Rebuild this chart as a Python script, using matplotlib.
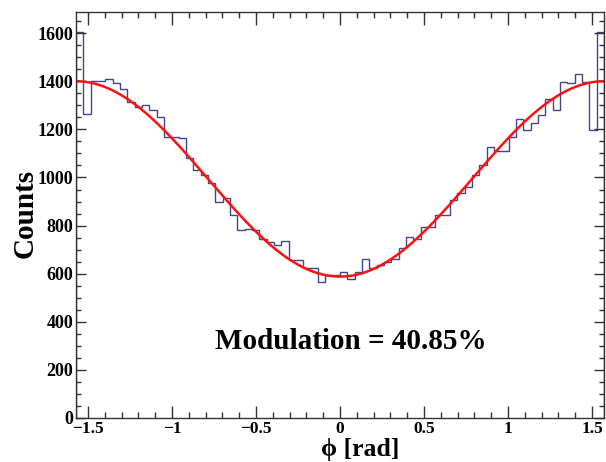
import numpy as np
import matplotlib
matplotlib.use("Agg")
import matplotlib.pyplot as plt
from matplotlib.ticker import MultipleLocator

# histogram: 72 bins over [-pi/2, pi/2]
N_BINS = 72
PHI_MIN, PHI_MAX = -np.pi / 2, np.pi / 2
counts = [
    1605, 1265, 1400, 1400, 1408, 1391, 1367, 1315, 1293, 1301,
    1280, 1252, 1169, 1169, 1165, 1079, 1031, 1010, 975, 899,
    913, 844, 783, 786, 780, 743, 733, 719, 737, 657,
    657, 623, 623, 566, 594, 594, 608, 578, 608, 661,
    622, 638, 650, 660, 706, 753, 745, 795, 795, 844,
    844, 906, 935, 960, 1010, 1050, 1127, 1110, 1110, 1169,
    1245, 1197, 1225, 1259, 1328, 1280, 1398, 1391, 1430, 1398,
    1197, 1606,
]

# fit: A * (1 - mod * cos(2 phi))
FIT_A = 994.0
FIT_MOD = 0.4085
MOD_LABEL = "Modulation = 40.85%"

LINE_HIST = "#44448c"
LINE_FIT = "#ff1010"

plt.rcParams["font.family"] = ["Liberation Serif", "DejaVu Serif"]
plt.rcParams["font.weight"] = "bold"

fig = plt.figure(figsize=(6.06, 4.62), dpi=100, facecolor="white")
ax = fig.add_axes([76 / 606, 1 - 418 / 462, 528 / 606, 406 / 462])

edges = np.linspace(PHI_MIN, PHI_MAX, N_BINS + 1)
ax.stairs(counts, edges, color=LINE_HIST, linewidth=1.0)

phi = np.linspace(PHI_MIN, PHI_MAX, 400)
ax.plot(phi, FIT_A * (1 - FIT_MOD * np.cos(2 * phi)), color=LINE_FIT, lw=1.8)

ax.set_xlim(PHI_MIN, PHI_MAX)
ax.set_ylim(0, 1688)

ax.xaxis.set_major_locator(MultipleLocator(0.5))
ax.xaxis.set_minor_locator(MultipleLocator(0.1))
ax.yaxis.set_major_locator(MultipleLocator(200))
ax.yaxis.set_minor_locator(MultipleLocator(50))
ax.xaxis.set_major_formatter(lambda v, p: f"{v:g}".replace("-", "\u2212"))

ax.tick_params(axis="both", which="both", direction="in", top=True, right=True,
               width=1.0, color="#333333", labelsize=13)
ax.tick_params(axis="x", which="major", length=9, pad=2, labelsize=12.5)
ax.tick_params(axis="x", which="minor", length=4.5)
ax.tick_params(axis="y", which="major", length=7.5, pad=2)
ax.tick_params(axis="y", which="minor", length=3.8)
for lab in ax.get_xticklabels() + ax.get_yticklabels():
    lab.set_fontweight("bold")
for spine in ax.spines.values():
    spine.set_linewidth(1.0)
    spine.set_edgecolor("#333333")

fig.text(25 / 606, 1 - 213 / 462, "Counts", rotation=90, ha="center", va="center",
         fontsize=21, fontweight="bold")
fig.text(360 / 606, 1 - 456 / 462, "\u03d5 [rad]", ha="center", va="baseline",
         fontsize=18.5, fontweight="bold")
fig.text(351 / 606, 1 - 349 / 462, MOD_LABEL, ha="center", va="baseline",
         fontsize=21, fontweight="bold")

fig.savefig("out.png", dpi=100, facecolor="white")
